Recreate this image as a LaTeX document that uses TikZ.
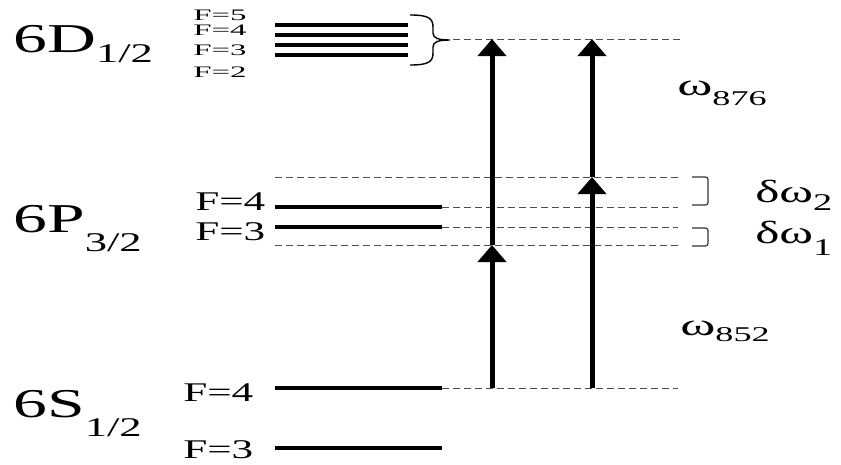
\documentclass[tikz,border=0pt]{standalone}
\usepackage{fontspec}
\setmainfont{Liberation Serif}
\usepackage{xcolor}
\usepackage{tikz}
\usetikzlibrary{arrows.meta}
\tikzset{every picture/.append style={font=\rmfamily}}
\definecolor{figdash}{HTML}{4D4D4D}
\definecolor{figbrk}{HTML}{333333}
\newcommand{\fsz}[1]{\fontsize{#1}{#1}\selectfont}

\begin{document}
\begin{tikzpicture}[x=1pt,y=-1pt,
    lvl/.style={line width=3.6pt},
    dashln/.style={figdash,line width=0.9pt,dash pattern=on 7pt off 4pt},
    arr/.style={line width=5pt,-{Triangle[width=28pt,length=17pt]}},
    lbl/.style={anchor=base west,inner sep=0pt,xscale=#1},
    lbl/.default=1.65,
    brk/.style={figbrk,line width=1.2pt,rounded corners=2.5pt}]
    \useasboundingbox (0,0) rectangle (841,464);
    % hyperfine levels
    \foreach \y in {25,35,45,55} {
      \draw[lvl] (275,\y) -- (408,\y);
    }
    \foreach \y in {207,227,388,448} {
      \draw[lvl] (275,\y) -- (442,\y);
    }
    % dashed guides
    \draw[dashln] (453,39) -- (680,39);
    \foreach \y in {177,245} {
      \draw[dashln] (275,\y) -- (678,\y);
    }
    \foreach \y in {207,227,388} {
      \draw[dashln] (442,\y) -- (678,\y);
    }
    % brace over 6D
    \draw[line width=1.4pt] (410,15) .. controls (428,15) and (433,18) .. (433,27)
      -- (433,33) .. controls (433,38) and (438,40) .. (450,40)
      .. controls (438,40) and (433,42) .. (433,47)
      -- (433,53) .. controls (433,62) and (428,65) .. (410,65);
    % detuning brackets
    \draw[brk] (692,177) -- (708,177) -- (708,205) -- (692,205);
    \draw[brk] (692,228) -- (708,228) -- (708,246) -- (692,246);
    % laser arrows
    \coordinate (g1) at (492,388);
    \coordinate (m1) at (492,245);
    \coordinate (e1) at (492,39);
    \coordinate (g2) at (592,388);
    \coordinate (m2) at (592,177);
    \coordinate (e2) at (592,39);
    \draw[arr] (g1) -- (m1);
    \draw[arr] (m1) -- (e1);
    \draw[arr] (g2) -- (m2);
    \draw[arr] (m2) -- (e2);
    % state labels
    \node[lbl,font=\fsz{41}] (d12) at (13,52) {6D\raisebox{-10pt}{\fsz{27}1/2}};
    \node[lbl,font=\fsz{41}] (p32) at (13,232) {6P\raisebox{-19pt}{\fsz{27}3/2}};
    \node[lbl,font=\fsz{41}] (s12) at (13,417) {6S\raisebox{-19pt}{\fsz{27}1/2}};
    \foreach \f/\y in {5/20,4/35,3/55,2/77} {
      \node[lbl=2.05,font=\fsz{16}] (fd\f) at (193,\y) {F=\f};
    }
    \node[lbl=1.6,font=\fsz{27}] (fp4) at (195,210) {F=4};
    \node[lbl=1.6,font=\fsz{27}] (fp3) at (195,240) {F=3};
    \node[lbl=1.6,font=\fsz{27}] (fs4) at (183,401) {F=4};
    \node[lbl=1.6,font=\fsz{27}] (fs3) at (183,458) {F=3};
    % frequencies
    \node[lbl=1.72,font=\fsz{31}] (w876) at (677,95) {ω\raisebox{-10pt}{\fsz{21}876}};
    \node[lbl=1.72,font=\fsz{31}] (w852) at (680,335) {ω\raisebox{-6pt}{\fsz{21}852}};
    \node[lbl=1.6,font=\fsz{32}] (dw2) at (755,202) {δω\raisebox{-8pt}{\fsz{24}2}};
    \node[lbl=1.6,font=\fsz{32}] (dw1) at (755,243) {δω\raisebox{-12pt}{\fsz{24}1}};
  \end{tikzpicture}
\end{document}
